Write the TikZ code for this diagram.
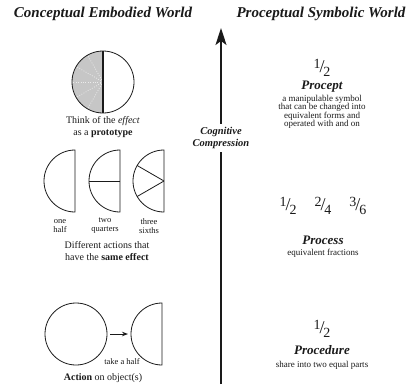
\documentclass[tikz,border=0pt]{standalone}
\usepackage{fontspec}
\setmainfont{Liberation Serif}
\usetikzlibrary{positioning,calc,arrows.meta}
\definecolor{ink}{HTML}{1A1A1A}
\definecolor{halftone}{HTML}{C6C6C6}
\newcommand{\frc}[2]{\raisebox{0.45ex}{\fontsize{14}{14}\selectfont #1}\kern-0.06em/\kern-0.06em\raisebox{-0.45ex}{\fontsize{14}{14}\selectfont #2}}

\begin{document}
\begin{tikzpicture}[x=1pt,y=-1pt,
  title/.style={font=\fontsize{15}{18}\selectfont\bfseries\itshape,text=ink},
  caption/.style={font=\fontsize{10}{11.5}\selectfont,align=center,text=ink},
  tiny/.style={font=\fontsize{8.5}{9}\selectfont,align=center,text=ink},
  kind/.style={font=\fontsize{13}{15}\selectfont\bfseries\itshape,text=ink},
  gloss/.style={font=\fontsize{9}{8.4}\selectfont,align=center,text=ink},
  frac/.style={font=\fontsize{18}{20}\selectfont,text=ink},
  outline/.style={draw=ink,line width=0.8pt}]
  \useasboundingbox (0,0) rectangle (412,384);

  % --- Titles ---
  \node[title] (embodied) at (103,14) {Conceptual Embodied World};
  \node[title] (symbolic) at (321,14) {Proceptual Symbolic World};

  % --- Prototype: think of the effect ---
  \coordinate (proto) at (103,82);
  \fill[halftone] ($(proto)+(0,-31)$) arc[start angle=90,end angle=270,radius=31pt] -- cycle;
  \foreach \a in {120,150,180,210,240}
    \draw[white!92!black,line width=0.8pt,dash pattern=on 0.8pt off 1.6pt] (proto) -- ++(\a:30pt);
  \draw[outline] (proto) circle (31pt);
  \draw[ink,line width=1.4pt] ($(proto)+(0,-31)$) -- ($(proto)+(0,31)$);
  \node[caption] (effect) at (103,127) {Think of the \emph{effect}\\as a \textbf{prototype}};

  % --- Different actions, same effect ---
  \coordinate (halfA) at (75,181);
  \coordinate (halfB) at (120,181);
  \coordinate (halfC) at (164,181);
  \foreach \c in {halfA,halfB,halfC}
    \draw[outline] ($(\c)+(0,-31)$) arc[start angle=90,end angle=270,radius=31pt] -- cycle;
  \draw[outline] (halfB) -- ++(180:31pt);
  \draw[outline] (halfC) -- ++(150:31pt) (halfC) -- ++(210:31pt);
  \node[tiny] (onehalf) at (60,226) {one\\half};
  \node[tiny] (twoquarters) at (105,226) {two\\quarters};
  \node[tiny] (threesixths) at (149,226) {three\\sixths};
  \node[caption] (actions) at (107,251) {Different actions that\\have the \textbf{same effect}};

  % --- Action on object(s) ---
  \node[circle,outline,minimum size=62pt,inner sep=0pt] (whole) at (76,334) {};
  \coordinate (halfD) at (162,334);
  \coordinate (cutD) at (131,334);
  \draw[outline] ($(halfD)+(0,-31)$) arc[start angle=90,end angle=270,radius=31pt] -- cycle;
  \draw[ink,line width=1pt,-{Stealth[length=6pt,width=4.5pt]}]
    ([xshift=3pt]whole.east) -- ([xshift=-3pt]cutD);
  \node[tiny] (takehalf) at (122,362) {take a half};
  \node[caption] (action) at (103,378) {\textbf{Action} on object(s)};

  % --- Cognitive compression ---
  \coordinate (base) at (221,384);
  \coordinate (tip) at (221,28);
  \node[font=\fontsize{10.5}{12}\selectfont\bfseries\itshape,align=center,text=ink]
    (compress) at (221,138) {Cognitive\\Compression};
  \draw[ink,line width=1.5pt] (base) -- (compress.south);
  \draw[ink,line width=1.5pt,-{Stealth[length=17pt,width=11pt,inset=4pt]}] (compress.north) -- (tip);

  % --- Symbolic side ---
  \node[frac] (procfrac) at (322,68) {\frc{1}{2}};
  \node[kind] (procept) at (322,87) {Procept};
  \node[gloss] (proceptgloss) at (322,112) {a manipulable symbol\\that can be changed into\\equivalent forms and\\operated with and on};

  \node[frac] (equivfrac) at (323,206) {\frc{1}{2}\quad\frc{2}{4}\quad\frc{3}{6}};
  \node[kind] (process) at (323,240) {Process};
  \node[gloss] (processgloss) at (323,253) {equivalent fractions};

  \node[frac] (sharefrac) at (322,329) {\frc{1}{2}};
  \node[kind] (procedure) at (322,350) {Procedure};
  \node[gloss] (proceduregloss) at (322,365) {share into two equal parts};
\end{tikzpicture}
\end{document}
